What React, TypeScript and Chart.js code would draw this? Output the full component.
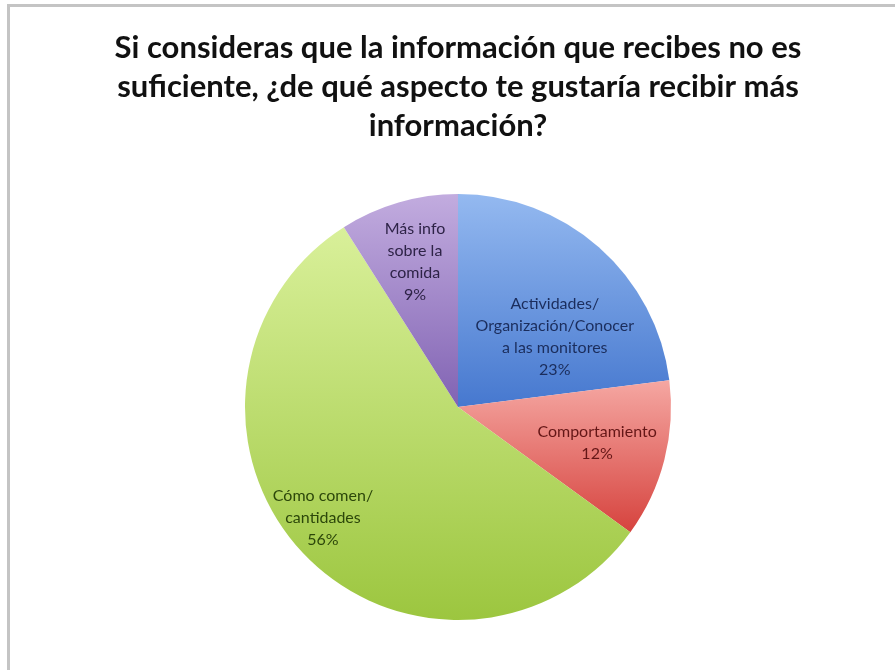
import React, { useEffect, useRef } from "react";
import { Chart, registerables } from "chart.js";

Chart.register(...registerables);

const titleLines = [
  "Si consideras que la información que recibes no es",
  "suficiente, ¿de qué aspecto te gustaría recibir más",
  "información?",
];
const categories = [
  "Actividades/Organización/Conocer a las monitores",
  "Comportamiento",
  "Cómo comen/cantidades",
  "Más info sobre la comida",
];
const values = [23, 12, 56, 9];
const labelLines = [
  ["Actividades/", "Organización/Conocer", "a las monitores"],
  ["Comportamiento"],
  ["Cómo comen/", "cantidades"],
  ["Más info", "sobre la", "comida"],
];
const topColors = ["#94b9f0", "#f5a7a2", "#d9f09a", "#c2acdf"];
const bottomColors = ["#4678cf", "#d6433e", "#9cc63f", "#8163b3"];
const textColors = ["#1b2d5c", "#641616", "#2c470a", "#2e2347"];
const labelAngleFrac = [0.655, 0.5, 0.519, 0.49];
const labelRadiusFrac = [0.56, 0.674, 0.82, 0.71];

const FONT = "Lato, 'Open Sans', sans-serif";

function sliceGradient(ctx: any) {
  const chart = ctx.chart;
  const area = chart.chartArea;
  const i = ctx.dataIndex ?? 0;
  if (!area) return topColors[i];
  const cx = (area.left + area.right) / 2;
  const cy = (area.top + area.bottom) / 2;
  const r = Math.min(area.right - area.left, area.bottom - area.top) / 2;
  const total = values.reduce((a, b) => a + b, 0);
  let before = 0;
  for (let k = 0; k < i; k++) before += values[k];
  const start = -Math.PI / 2 + (before / total) * Math.PI * 2;
  const end = start + (values[i] / total) * Math.PI * 2;
  let minY = cy;
  let maxY = cy;
  for (let k = 0; k <= 60; k++) {
    const a = start + ((end - start) * k) / 60;
    const y = cy + r * Math.sin(a);
    minY = Math.min(minY, y);
    maxY = Math.max(maxY, y);
  }
  const g = chart.ctx.createLinearGradient(0, minY, 0, maxY);
  g.addColorStop(0, topColors[i]);
  g.addColorStop(1, bottomColors[i]);
  return g;
}

const framePlugin = {
  id: "frameAndTitle",
  beforeDraw(chart: any) {
    const c = chart.ctx;
    c.save();
    c.fillStyle = "#ffffff";
    c.fillRect(0, 0, chart.width, chart.height);
    c.fillStyle = "#c4c4c4";
    c.fillRect(7, 4, chart.width - 7, 3);
    c.fillRect(7, 4, 3, chart.height - 4);
    const area = chart.chartArea;
    const cx = (area.left + area.right) / 2;
    c.fillStyle = "#111111";
    c.font = `bold 31px ${FONT}`;
    c.textAlign = "center";
    c.textBaseline = "middle";
    titleLines.forEach((t, k) => {
      c.fillText(t, cx, 48 + k * 39);
    });
    c.restore();
  },
};

const labelPlugin = {
  id: "sliceLabels",
  afterDatasetsDraw(chart: any) {
    const c = chart.ctx;
    const meta = chart.getDatasetMeta(0);
    const total = values.reduce((a, b) => a + b, 0);
    c.save();
    c.font = `16px ${FONT}`;
    c.textAlign = "center";
    c.textBaseline = "middle";
    meta.data.forEach((el: any, i: number) => {
      const p = el.getProps(["x", "y", "startAngle", "endAngle", "outerRadius"], true);
      const ang = p.startAngle + (p.endAngle - p.startAngle) * labelAngleFrac[i];
      const rr = p.outerRadius * labelRadiusFrac[i];
      const x = p.x + Math.cos(ang) * rr;
      const y = p.y + Math.sin(ang) * rr;
      const lines = [...labelLines[i], Math.round((values[i] / total) * 100) + "%"];
      const lh = 22;
      const y0 = y - ((lines.length - 1) * lh) / 2;
      c.fillStyle = textColors[i];
      lines.forEach((t, k) => c.fillText(t, x, y0 + k * lh));
    });
    c.restore();
  },
};

export default function App() {
  const ref = useRef<HTMLCanvasElement | null>(null);
  useEffect(() => {
    if (!ref.current) return;
    const chart = new Chart(ref.current, {
      type: "pie",
      data: {
        labels: categories,
        datasets: [
          {
            data: values,
            backgroundColor: sliceGradient as any,
            borderWidth: 0,
          },
        ],
      },
      options: {
        responsive: false,
        animation: false,
        layout: { padding: { top: 194, bottom: 50, left: 245, right: 224 } },
        plugins: {
          legend: { display: false },
          title: { display: false },
          tooltip: { enabled: false },
        },
      },
      plugins: [framePlugin, labelPlugin],
    });
    return () => chart.destroy();
  }, []);
  return (
    <div style={{ position: "fixed", left: 0, top: 0, width: 895, height: 670, background: "#fff" }}>
      <canvas ref={ref} width={895} height={670} style={{ display: "block" }} />
    </div>
  );
}
